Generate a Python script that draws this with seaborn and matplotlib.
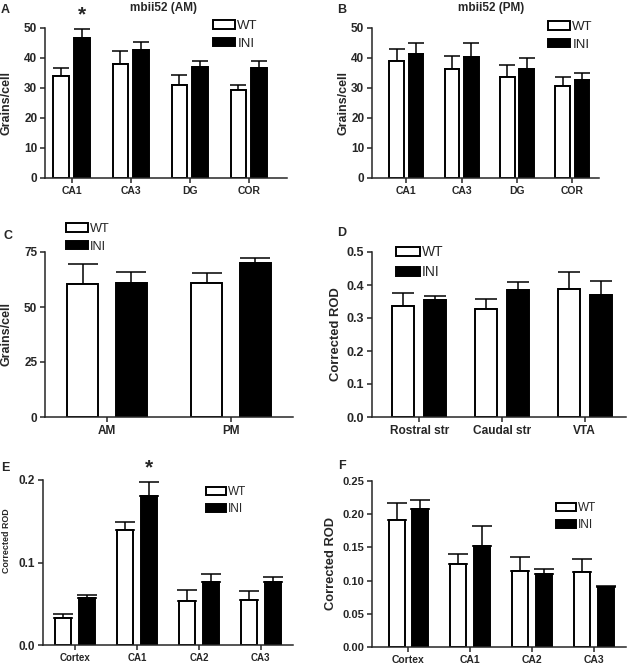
import numpy as np
import pandas as pd
import matplotlib
matplotlib.use("Agg")
import matplotlib.pyplot as plt
from matplotlib.patches import Patch
import seaborn as sns

# ---- data (means and SEM) ----
groups = ["WT", "INI"]

a_cats = ["CA1", "CA3", "DG", "COR"]
a_wt = [34.1, 38.1, 31.1, 29.4]
a_wt_sem = [2.6, 4.3, 3.2, 1.7]
a_ini = [46.6, 42.8, 37.0, 36.8]
a_ini_sem = [3.1, 2.4, 2.1, 2.2]

b_cats = ["CA1", "CA3", "DG", "COR"]
b_wt = [39.0, 36.4, 33.6, 30.7]
b_wt_sem = [4.1, 4.4, 4.1, 3.1]
b_ini = [41.3, 40.2, 36.4, 32.7]
b_ini_sem = [3.6, 4.7, 3.5, 2.4]

c_cats = ["AM", "PM"]
c_wt = [60.3, 61.1]
c_wt_sem = [9.4, 4.5]
c_ini = [60.9, 70.2]
c_ini_sem = [5.0, 2.2]

d_cats = ["Rostral str", "Caudal str", "VTA"]
d_wt = [0.336, 0.327, 0.389]
d_wt_sem = [0.040, 0.032, 0.050]
d_ini = [0.356, 0.384, 0.369]
d_ini_sem = [0.011, 0.025, 0.044]

e_cats = ["Cortex", "CA1", "CA2", "CA3"]
e_wt = [0.033, 0.139, 0.053, 0.055]
e_wt_sem = [0.005, 0.010, 0.014, 0.010]
e_ini = [0.057, 0.181, 0.076, 0.076]
e_ini_sem = [0.004, 0.016, 0.010, 0.007]

f_cats = ["Cortex", "CA1", "CA2", "CA3"]
f_wt = [0.192, 0.1255, 0.115, 0.113]
f_wt_sem = [0.025, 0.014, 0.020, 0.0195]
f_ini = [0.208, 0.1526, 0.110, 0.091]
f_ini_sem = [0.013, 0.030, 0.007, 0.0015]

sns.set_style("ticks")
plt.rcParams["font.family"] = ["Liberation Sans", "DejaVu Sans"]
plt.rcParams["axes.linewidth"] = 1.1

W, H = 628, 667
fig = plt.figure(figsize=(W / 100, H / 100), dpi=100)


def px_axes(l, t, r, b):
    return fig.add_axes([l / W, 1 - b / H, (r - l) / W, (b - t) / H])


def panel(ax, cats, wt, wt_sem, ini, ini_sem, yticks, ylabel, xlim,
          width, gap, capsize, label_x, leg_xy, sizes, yfmt=None, star=None,
          label_y=0.5):
    ytk, xtk, ylab, leg = sizes
    df = pd.DataFrame({
        "cat": cats * 2,
        "val": list(wt) + list(ini),
        "group": ["WT"] * len(cats) + ["INI"] * len(cats),
    })
    sns.barplot(data=df, x="cat", y="val", hue="group", hue_order=groups,
                palette={"WT": "white", "INI": "black"}, edgecolor="black",
                linewidth=1.4, errorbar=None, width=width, gap=gap,
                legend=False, ax=ax)
    for cont, sem in zip(ax.containers, [wt_sem, ini_sem]):
        xs = [p.get_x() + p.get_width() / 2 for p in cont.patches]
        hs = [p.get_height() for p in cont.patches]
        ax.errorbar(xs, hs, yerr=[np.zeros(len(sem)), sem], fmt="none",
                    ecolor="black", elinewidth=1.1, capsize=capsize,
                    capthick=1.1, zorder=0)
    if star is not None:
        p = ax.containers[1].patches[star]
        top = p.get_height() + ini_sem[star]
        ax.text(p.get_x() + p.get_width() / 2, top + (yticks[-1] * 0.03), "*",
                ha="center", va="bottom", fontsize=15, fontweight="bold",
                clip_on=False)
    ax.set_ylim(yticks[0], yticks[-1])
    ax.set_yticks(yticks)
    if yfmt is not None:
        ax.set_yticklabels([yfmt.format(v) for v in yticks])
    ax.set_xlim(*xlim)
    ax.set_xlabel("")
    ax.set_ylabel(ylabel, fontsize=ylab, fontweight="bold")
    pos = ax.get_position()
    ax.yaxis.set_label_coords((label_x / W - pos.x0) / pos.width, label_y)
    ax.tick_params(axis="both", width=1.1, length=3.5, pad=2)
    ax.tick_params(axis="y", labelsize=ytk)
    ax.tick_params(axis="x", labelsize=xtk)
    for lab in ax.get_xticklabels() + ax.get_yticklabels():
        lab.set_fontweight("bold")
    sns.despine(ax=ax)
    handles = [Patch(facecolor="white", edgecolor="black", linewidth=1.4, label="WT"),
               Patch(facecolor="black", edgecolor="black", linewidth=1.4, label="INI")]
    ax.legend(handles=handles, loc="upper left", frameon=False, fontsize=leg,
              bbox_to_anchor=(leg_xy[0] / W, 1 - leg_xy[1] / H),
              bbox_transform=fig.transFigure, borderpad=0, borderaxespad=0,
              handlelength=1.7, handleheight=0.6, handletextpad=0.15,
              labelspacing=0.45)


ax_a = px_axes(45, 28, 287, 178)
panel(ax_a, a_cats, a_wt, a_wt_sem, a_ini, a_ini_sem, [0, 10, 20, 30, 40, 50],
      "Grains/cell", (-0.45, 3.65), 0.70, 0.25, 6, 13, (213, 20),
      (8.5, 7.5, 9.0, 9.5), star=0)
ax_b = px_axes(372, 28, 599, 178)
panel(ax_b, b_cats, b_wt, b_wt_sem, b_ini, b_ini_sem, [0, 10, 20, 30, 40, 50],
      "Grains/cell", (-0.62, 3.48), 0.70, 0.25, 6, 349, (548, 21),
      (8.5, 7.5, 9.0, 9.5))
ax_c = px_axes(45, 252, 293, 417)
panel(ax_c, c_cats, c_wt, c_wt_sem, c_ini, c_ini_sem, [0, 25, 50, 75],
      "Grains/cell", (-0.5, 1.5), 0.78, 0.36, 11, 13, (66, 223),
      (8.5, 8.5, 9.0, 9.2))
ax_d = px_axes(372, 252, 626, 417)
panel(ax_d, d_cats, d_wt, d_wt_sem, d_ini, d_ini_sem, [0.0, 0.1, 0.2, 0.3, 0.4, 0.5],
      "Corrected ROD", (-0.57, 2.5), 0.77, 0.31, 8, 342, (396, 245),
      (9.0, 8.6, 9.4, 10.0), yfmt="{:.1f}")
ax_e = px_axes(43, 480, 293, 645)
panel(ax_e, e_cats, e_wt, e_wt_sem, e_ini, e_ini_sem, [0.0, 0.1, 0.2],
      "Corrected ROD", (-0.52, 3.52), 0.77, 0.33, 7, 11, (206, 486),
      (8.5, 7.0, 6.4, 8.5), yfmt="{:.1f}", star=1, label_y=0.63)
ax_f = px_axes(372, 481, 626, 647)
panel(ax_f, f_cats, f_wt, f_wt_sem, f_ini, f_ini_sem,
      [0.0, 0.05, 0.10, 0.15, 0.20, 0.25],
      "Corrected ROD", (-0.59, 3.52), 0.77, 0.33, 7, 337, (556, 502),
      (8.0, 7.5, 9.3, 8.5), yfmt="{:.2f}")

# titles and panel letters
fig.text(163 / W, 1 - 8 / H, "mbii52 (AM)", ha="center", va="center",
         fontsize=8.5, fontweight="bold")
fig.text(491 / W, 1 - 8 / H, "mbii52 (PM)", ha="center", va="center",
         fontsize=8.5, fontweight="bold")
for letter, x, y in [("A", 5, 10), ("B", 342, 10), ("C", 8, 236),
                     ("D", 342, 233), ("E", 5, 468), ("F", 342, 466)]:
    fig.text(x / W, 1 - y / H, letter, ha="center", va="center",
             fontsize=9, fontweight="bold")

fig.savefig("out.png", dpi=100)
